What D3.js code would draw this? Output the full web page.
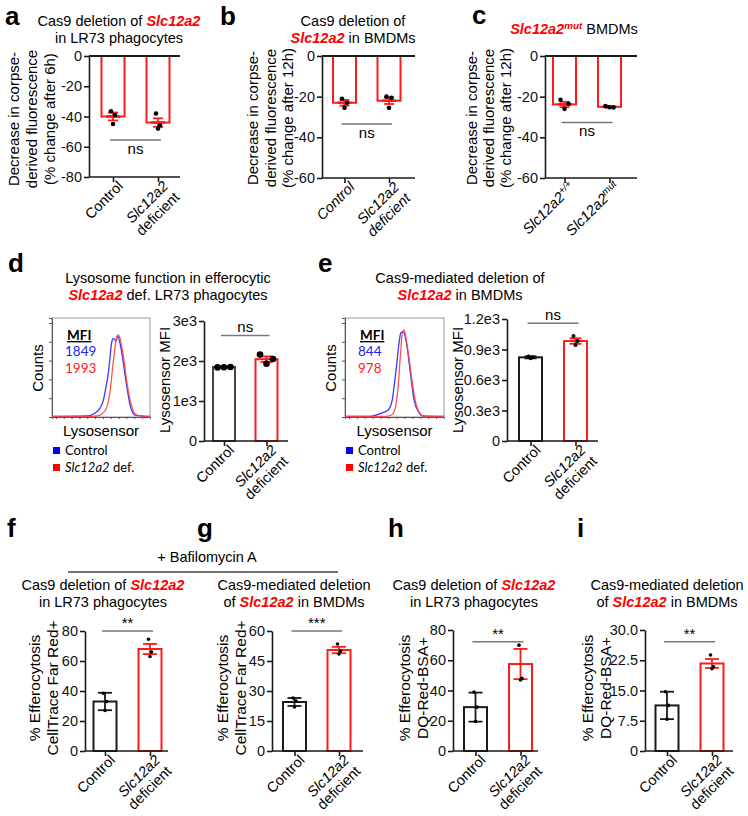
<!DOCTYPE html>
<html>
<head>
<meta charset="utf-8">
<script src="https://cdn.jsdelivr.net/npm/d3@7"></script>
<style>
  body { margin: 0; background: #fff; }
  svg { display: block; font-family: "Liberation Sans", Arial, sans-serif; }
</style>
</head>
<body>
<script>
// ---------------- data ----------------
const koCats = ["Control", "Slc12a2 deficient"]
const mutCats = ["Slc12a2+/+", "Slc12a2mut"]

// a-c : decrease in corpse-derived fluorescence (%)
const aMean = [-40, -44], aErr = [2.6, 2.8]
const aPts = [[-36.5, -39, -45], [-38, -46, -48]]
const aTicks = [0, -20, -40, -60, -80]
const aSig = -55.5

const bMean = [-23, -22], bErr = [1.4, 1.6]
const bPts = [[-21, -23, -25.5], [-20, -20.5, -25.5]]
const bTicks = [0, -20, -40, -60]
const bSig = -33.4

const cMean = [-23.8, -25], cErr = [1.3, 0.4]
const cPts = [[-21.5, -23.5, -26], [-24.6, -25.3, -25.2]]
const cTicks = [0, -20, -40, -60]
const cSig = -32.7

// d-e : lysosensor MFI
const dMean = [1850, 2045], dErr = [15, 70]
const dPts = [[1840, 1850, 1845], [2160, 2050, 1930]]
const dTicks = [0, 1000, 2000, 3000]
const dSig = 2640
const dMFI = ["1849", "1993"]

const eMean = [823, 983], eErr = [10, 27]
const ePts = [[830, 823, 815], [1032, 983, 944]]
const eTicks = [0, 300, 600, 900, 1200]
const eSig = 1157
const eMFI = ["844", "978"]

// histogram traces (x: position along lysosensor axis 0-100, y: counts 0-100)
const dCtrlX = [0, 35.6, 44, 49, 52.5, 55, 57, 59, 61, 62.7, 65.4, 67, 69.5, 72.9, 76.3, 79.7, 84.7, 100]
const dCtrlY = [0.5, 1, 4, 9, 17, 30, 41, 58, 76, 79.5, 77, 82, 74, 54, 31, 12, 2, 0.5]
const dKoX = [0, 38, 45.8, 50.9, 56, 59.3, 62, 64.4, 66.1, 67.8, 69.5, 72.9, 76.3, 80.4, 86.5, 100]
const dKoY = [0.5, 0.5, 1, 3, 10, 26, 51, 71, 81, 83, 79, 61, 36, 14, 2, 0.5]
const eCtrlX = [0, 23.5, 37, 43.6, 47.7, 49.7, 52, 54.4, 56.4, 58.7, 60.4, 63.1, 66.5, 69.8, 73.8, 78.9, 100]
const eCtrlY = [0.5, 0.5, 4, 7, 17, 32, 51, 73, 85, 86, 83, 68, 41, 17, 6, 1, 0.5]
const eKoX = [0, 40, 47, 51, 53.7, 56.1, 58.1, 59.7, 61.7, 64.4, 67.8, 71.1, 75.5, 80.5, 100]
const eKoY = [0.5, 0.5, 2, 10, 31, 64, 86, 88, 79, 61, 36, 16, 4, 0.5, 0.5]

// f-i : % efferocytosis
const fMean = [33, 68], fErr = [5.8, 3.4]
const fPts = [[38.5, 33, 27], [74.5, 66, 63]]
const fTicks = [0, 20, 40, 60, 80]
const fSig = 80

const gMean = [24.5, 50.5], gErr = [2, 1.6]
const gPts = [[26.5, 25, 22], [53.5, 50, 48.5]]
const gTicks = [0, 15, 30, 45, 60]
const gSig = 60

const hMean = [29, 57.5], hErr = [9.6, 10]
const hPts = [[39, 29, 19.5], [70, 48, 47]]
const hTicks = [0, 20, 40, 60, 80]
const hSig = 72.3

const iMean = [11.3, 21.7], iErr = [3.4, 1.1]
const iPts = [[14.7, 11.3, 7.9], [23.8, 20.9, 20.4]]
const iTicks = [0, 7.5, 15, 22.5, 30]
const iSig = 27.1

// ---------------- drawing ----------------
const RED = "#ff1a1a", BLACK = "#1a1a1a", GREY = "#777"
const svg = d3.select("body").append("svg").attr("width", 748).attr("height", 816)

function rich(sel, parts) {
  parts.forEach(([t, s = ""]) => {
    const ts = sel.append("tspan").text(t)
    if (s.includes("R")) ts.attr("fill", "#ff0000").attr("font-weight", "bold").attr("font-style", "italic")
    if (s.includes("i")) ts.attr("font-style", "italic")
    if (s.includes("^")) ts.attr("baseline-shift", "super").attr("font-size", "0.68em")
  })
  return sel
}

function title(lines, cx, y0, lh = 17) {
  lines.forEach((parts, k) => {
    rich(svg.append("text").attr("x", cx).attr("y", y0 + k * lh)
      .attr("text-anchor", "middle").attr("font-size", 14.5), parts)
  })
}

function letter(t, x, y) {
  svg.append("text").attr("x", x).attr("y", y).attr("font-size", 26)
    .attr("font-weight", "bold").text(t)
}

function ylabel(lines, x, yc, lh, fs) {
  const t = svg.append("text").attr("transform", `translate(${x},${yc}) rotate(-90)`)
    .attr("text-anchor", "middle").attr("font-size", fs)
  lines.forEach((l, k) => t.append("tspan").attr("x", 0).attr("dy", k ? lh : 0).text(l))
}

// x tick label renderers
const lblKO = (t, i) => {
  if (i === 0) t.append("tspan").text("Control")
  else {
    t.append("tspan").attr("x", 0).attr("font-style", "italic").text("Slc12a2")
    t.append("tspan").attr("x", 0).attr("dy", "1.1em").text("deficient")
  }
}
const lblKOit = (t, i) => {
  t.attr("font-style", "italic")
  if (i === 0) t.append("tspan").text("Control")
  else {
    t.append("tspan").attr("x", 0).text("Slc12a2")
    t.append("tspan").attr("x", 0).attr("dy", "1.1em").text("deficient")
  }
}
const lblMut = (t, i) => {
  t.attr("font-style", "italic")
  rich(t, [["Slc12a2"], [i === 0 ? "+/+" : "mut", "^"]])
}

function barPanel(o) {
  const g = svg.append("g")
  const y = d3.scaleLinear().domain(o.domain).range([o.yBot, o.yTop])
  const x = d3.scalePoint().domain(o.cats).range([o.x0 + o.xr[0], o.x0 + o.xr[1]])
  const hang = o.domain[1] === 0
  const x1 = o.x0 + o.w

  // bars
  g.selectAll("rect").data(o.cats).join("rect")
    .attr("x", c => x(c) - o.bw / 2)
    .attr("y", (c, i) => Math.min(y(0), y(o.mean[i])))
    .attr("width", o.bw)
    .attr("height", (c, i) => Math.abs(y(o.mean[i]) - y(0)))
    .attr("fill", "none")
    .attr("stroke", (c, i) => o.col[i])
    .attr("stroke-width", 2)

  // y axis
  const ya = g.append("g").attr("transform", `translate(${o.x0},0)`)
    .call(d3.axisLeft(y).tickValues(o.ticks).tickFormat(o.fmt || (v => String(v)))
      .tickSize(5).tickSizeOuter(0).tickPadding(2))
  ya.attr("font-size", 14.5).attr("font-family", null)
  ya.selectAll("line,path").attr("stroke", BLACK).attr("stroke-width", 1.6)
  ya.selectAll("text").attr("fill", "#111")

  // bottom axis with category ticks
  const xa = g.append("g").attr("transform", `translate(0,${o.yBot})`)
    .call(d3.axisBottom(x).tickSize(5).tickFormat(""))
  xa.select(".domain").remove()
  xa.selectAll("line").attr("stroke", BLACK).attr("stroke-width", 1.6)
  g.append("line").attr("x1", o.x0).attr("x2", x1).attr("y1", o.yBot).attr("y2", o.yBot)
    .attr("stroke", BLACK).attr("stroke-width", 1.6)
  if (hang) {
    g.append("line").attr("x1", o.x0).attr("x2", x1).attr("y1", y(0)).attr("y2", y(0))
      .attr("stroke", BLACK).attr("stroke-width", 2.2)
  }

  // error bars + points
  const jit = [-1, 1, 0]
  o.cats.forEach((c, i) => {
    const cx = x(c), m = o.mean[i], e = o.err[i], col = o.ecol[i]
    g.append("line").attr("x1", cx).attr("x2", cx).attr("y1", y(m - e)).attr("y2", y(m + e))
      .attr("stroke", col).attr("stroke-width", 1.8)
    ;[m - e, m + e].forEach(v => g.append("line")
      .attr("x1", cx - o.cap / 2).attr("x2", cx + o.cap / 2).attr("y1", y(v)).attr("y2", y(v))
      .attr("stroke", col).attr("stroke-width", 1.8))
    if (o.meanW) g.append("line").attr("x1", cx - o.meanW / 2).attr("x2", cx + o.meanW / 2)
      .attr("y1", y(m)).attr("y2", y(m)).attr("stroke", col).attr("stroke-width", 2.6)
    g.selectAll(null).data(o.pts[i]).join("circle")
      .attr("cx", (v, k) => cx + jit[k] * o.jit)
      .attr("cy", v => y(v))
      .attr("r", o.r)
      .attr("fill", "#000")
  })

  // significance
  const sx0 = x(o.cats[0]) - 3, sx1 = x(o.cats[1]) + 3, sy = y(o.sig)
  g.append("line").attr("x1", sx0).attr("x2", sx1).attr("y1", sy).attr("y2", sy)
    .attr("stroke", GREY).attr("stroke-width", 1.5)
  g.append("text").attr("x", (sx0 + sx1) / 2).attr("y", sy + o.sigDy)
    .attr("text-anchor", "middle").attr("font-size", 15).text(o.sigText)

  // category labels
  o.cats.forEach((c, i) => {
    const t = g.append("text")
      .attr("transform", `translate(${x(c) + 11},${o.yBot + 10}) rotate(-45)`)
      .attr("text-anchor", "end").attr("font-size", 14.5)
    o.label(t, i)
  })
}

function histPanel(o) {
  const g = svg.append("g")
  const x = d3.scaleLinear().domain([0, 100]).range([o.bx0, o.bx1])
  const y = d3.scaleLinear().domain([0, 100]).range([o.by1, o.by0])
  g.append("rect").attr("x", o.bx0).attr("y", o.by0)
    .attr("width", o.bx1 - o.bx0).attr("height", o.by1 - o.by0)
    .attr("fill", "none").attr("stroke", "#999").attr("stroke-width", 1)
  const la = g.append("g").attr("transform", `translate(${o.bx0},0)`)
    .call(d3.axisLeft(y).tickValues(d3.range(0, 100, 19)).tickSize(3).tickFormat(""))
  la.select(".domain").attr("stroke", "#555")
  la.selectAll("line").attr("stroke", "#555")
  const ba = g.append("g").attr("transform", `translate(0,${o.by1})`)
    .call(d3.axisBottom(x).tickValues(d3.range(4, 100, 8)).tickSize(2).tickFormat(""))
  ba.select(".domain").attr("stroke", "#555")
  ba.selectAll("line").attr("stroke", "#555")

  const line = d3.line().x(d => x(d[0])).y(d => y(d[1])).curve(d3.curveMonotoneX)
  g.append("path").attr("d", line(d3.zip(o.cx, o.cy)))
    .attr("fill", "none").attr("stroke", "#3a3aff").attr("stroke-width", 1.3)
  g.append("path").attr("d", line(d3.zip(o.kx, o.ky)))
    .attr("fill", "none").attr("stroke", "#ff4040").attr("stroke-width", 1.3).attr("opacity", 0.9)

  const lato = "Lato, 'Open Sans', sans-serif"
  g.append("text").attr("x", o.bx0 + 15).attr("y", 340).attr("font-family", lato)
    .attr("font-weight", "bold").attr("font-size", 13.5).attr("text-decoration", "underline").text("MFI")
  g.append("text").attr("x", o.bx0 + 13).attr("y", 356).attr("font-family", lato)
    .attr("font-size", 13.5).attr("fill", "#2020ff").text(o.mfi[0])
  g.append("text").attr("x", o.bx0 + 13).attr("y", 373).attr("font-family", lato)
    .attr("font-size", 13.5).attr("fill", "#ff2020").text(o.mfi[1])

  g.append("text").attr("transform", `translate(${o.bx0 - 9},368) rotate(-90)`)
    .attr("text-anchor", "middle").attr("font-size", 15).text("Counts")
  g.append("text").attr("x", (o.bx0 + o.bx1) / 2).attr("y", 436)
    .attr("text-anchor", "middle").attr("font-size", 15).text("Lysosensor")

  // legend
  const lg = [["#0000ff", [["Control"]]], ["#ff0000", [["Slc12a2", "i"], [" def."]]]]
  lg.forEach(([col, parts], k) => {
    g.append("rect").attr("x", o.bx0 + 1).attr("y", 447 + k * 17).attr("width", 7).attr("height", 7).attr("fill", col)
    rich(g.append("text").attr("x", o.bx0 + 13).attr("y", 455 + k * 17)
      .attr("font-family", lato).attr("font-size", 13), parts)
  })
}

// ---- row 1 ----
letter("a", 5, 25); letter("b", 220, 25); letter("c", 472, 24)
title([[["Cas9 deletion of "], ["Slc12a2", "R"]], [["in LR73 phagocytes"]]], 119, 26)
title([[["Cas9 deletion of"]], [["Slc12a2", "R"], [" in BMDMs"]]], 353, 26)
title([[["Slc12a2", "R"], ["mut", "R^"], [" BMDMs"]]], 574, 34)

const yl6 = ["Decrease in corpse-", "derived fluorescence", "(% change after 6h)"]
const yl12 = ["Decrease in corpse-", "derived fluorescence", "(% change after 12h)"]
ylabel(yl6, 19, 119, 18, 15)
ylabel(yl12, 258, 118, 17.5, 15)
ylabel(yl12, 477, 118, 17, 15)

barPanel({ cats: koCats, mean: aMean, err: aErr, pts: aPts, ticks: aTicks, domain: [-80, 0],
  x0: 89, w: 91, xr: [24, 69], yTop: 56, yBot: 177, bw: 23, col: [RED, RED], ecol: [RED, RED],
  cap: 10, meanW: 14, r: 2.3, jit: 2, sig: aSig, sigText: "ns", sigDy: 14, label: lblKO })
barPanel({ cats: koCats, mean: bMean, err: bErr, pts: bPts, ticks: bTicks, domain: [-60, 0],
  x0: 322, w: 93, xr: [22.5, 67], yTop: 56, yBot: 178, bw: 23, col: [RED, RED], ecol: [RED, RED],
  cap: 10, meanW: 14, r: 2.3, jit: 2.5, sig: bSig, sigText: "ns", sigDy: 14, label: lblKOit })
barPanel({ cats: mutCats, mean: cMean, err: cErr, pts: cPts, ticks: cTicks, domain: [-60, 0],
  x0: 545, w: 92, xr: [19.5, 64.5], yTop: 56, yBot: 178, bw: 23, col: [RED, RED], ecol: [RED, RED],
  cap: 10, meanW: 14, r: 2.3, jit: 4, sig: cSig, sigText: "ns", sigDy: 14, label: lblMut })

// ---- row 2 ----
letter("d", 8, 272); letter("e", 318, 272)
title([[["Lysosome function in efferocytic"]], [["Slc12a2", "R"], [" def. LR73 phagocytes"]]], 168, 283)
title([[["Cas9-mediated deletion of"]], [["Slc12a2", "R"], [" in BMDMs"]]], 460, 283)

histPanel({ bx0: 52, bx1: 150, by0: 318, by1: 417, cx: dCtrlX, cy: dCtrlY, kx: dKoX, ky: dKoY, mfi: dMFI })
histPanel({ bx0: 345, bx1: 444, by0: 318, by1: 417, cx: eCtrlX, cy: eCtrlY, kx: eKoX, ky: eKoY, mfi: eMFI })

ylabel(["Lysosensor MFI"], 170, 380, 0, 15)
ylabel(["Lysosensor MFI"], 463, 380, 0, 15)

barPanel({ cats: koCats, mean: dMean, err: dErr, pts: dPts, ticks: dTicks, domain: [0, 3000],
  fmt: v => v === 0 ? "0" : (v / 1000) + "e3",
  x0: 204, w: 84, xr: [20, 62.5], yTop: 321, yBot: 441, bw: 22, col: ["#444", RED], ecol: [BLACK, RED],
  cap: 12, r: 3.3, jit: 6.5, sig: dSig, sigText: "ns", sigDy: -3, label: lblKO })
barPanel({ cats: koCats, mean: eMean, err: eErr, pts: ePts, ticks: eTicks, domain: [0, 1200],
  fmt: v => v === 0 ? "0" : (v / 1000).toFixed(1) + "e3",
  x0: 507, w: 91, xr: [23.5, 68.5], yTop: 319, yBot: 441, bw: 23, col: [BLACK, RED], ecol: [BLACK, RED],
  cap: 12, r: 2, jit: 2, sig: eSig, sigText: "ns", sigDy: -3, label: lblKO })

// ---- row 3 ----
letter("f", 7, 537); letter("g", 197, 537); letter("h", 388, 537); letter("i", 577, 537)
svg.append("text").attr("x", 207).attr("y", 562).attr("text-anchor", "middle").attr("font-size", 14.5)
  .text("+ Bafilomycin A")
svg.append("line").attr("x1", 68).attr("x2", 338).attr("y1", 572).attr("y2", 572)
  .attr("stroke", "#444").attr("stroke-width", 1.3)

title([[["Cas9 deletion of "], ["Slc12a2", "R"]], [["in LR73 phagocytes"]]], 103, 590)
title([[["Cas9-mediated deletion"]], [["of "], ["Slc12a2", "R"], [" in BMDMs"]]], 294, 590)
title([[["Cas9 deletion of "], ["Slc12a2", "R"]], [["in LR73 phagocytes"]]], 474, 590)
title([[["Cas9-mediated deletion"]], [["of "], ["Slc12a2", "R"], [" in BMDMs"]]], 667, 590)

ylabel(["% Efferocytosis", "CellTrace Far Red+"], 39.5, 688, 18.5, 15.5)
ylabel(["% Efferocytosis", "CellTrace Far Red+"], 227.5, 688, 18.5, 15.5)
ylabel(["% Efferocytosis", "DQ-Red-BSA+"], 409.5, 688, 18.5, 15.5)
ylabel(["% Efferocytosis", "DQ-Red-BSA+"], 592.5, 688, 18.5, 15.5)

const rowF = { cats: koCats, col: [BLACK, RED], ecol: [BLACK, RED], yBot: 751, bw: 23,
  cap: 14, r: 1.8, jit: 1.5, sigDy: -3, label: lblKO }
barPanel(Object.assign({}, rowF, { mean: fMean, err: fErr, pts: fPts, ticks: fTicks, domain: [0, 80],
  x0: 85, w: 83, xr: [20, 65], yTop: 631, sig: fSig, sigText: "**" }))
barPanel(Object.assign({}, rowF, { mean: gMean, err: gErr, pts: gPts, ticks: gTicks, domain: [0, 60],
  x0: 272, w: 91, xr: [22.5, 67], yTop: 631, sig: gSig, sigText: "***" }))
barPanel(Object.assign({}, rowF, { mean: hMean, err: hErr, pts: hPts, ticks: hTicks, domain: [0, 80],
  x0: 453, w: 85, xr: [22.5, 67.5], yTop: 630, sig: hSig, sigText: "**" }))
barPanel(Object.assign({}, rowF, { mean: iMean, err: iErr, pts: iPts, ticks: iTicks, domain: [0, 30],
  fmt: v => v === 0 ? "0" : v.toFixed(1),
  x0: 645, w: 88, xr: [22, 67], yTop: 630, sig: iSig, sigText: "**" }))
</script>
</body>
</html>
